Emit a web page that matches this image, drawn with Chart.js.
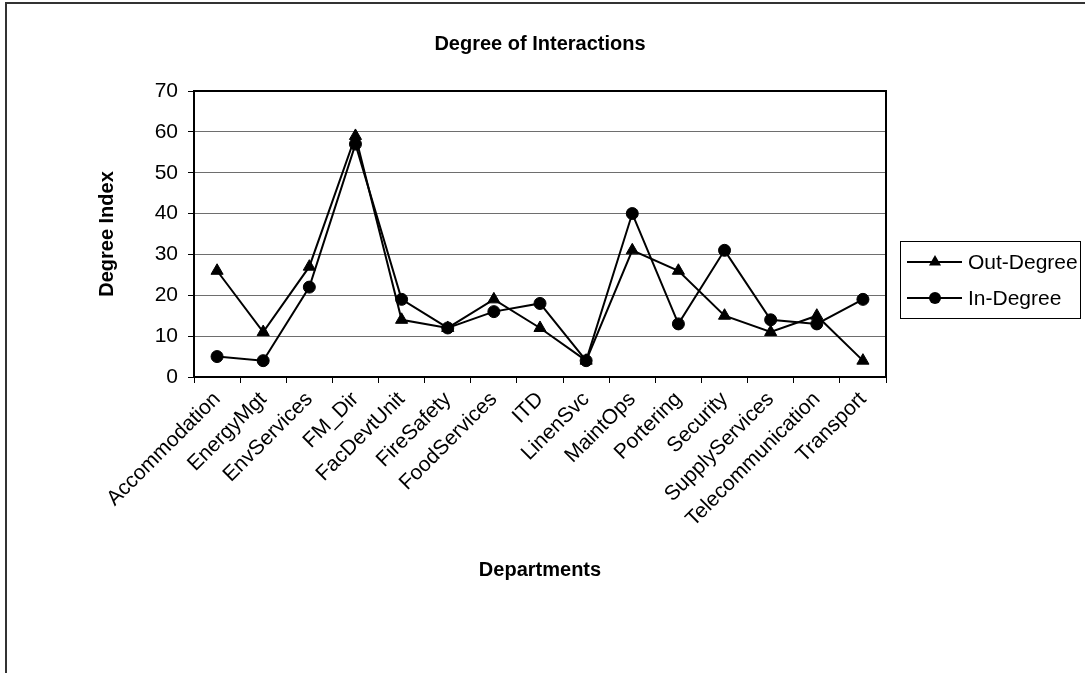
<!DOCTYPE html>
<html lang="en">
<head>
<meta charset="UTF-8">
<title>Degree of Interactions</title>
<script src="https://cdn.jsdelivr.net/npm/chart.js@4.4.0/dist/chart.umd.min.js"></script>
<style>
  html, body { margin:0; padding:0; background:#fff; }
  #wrap { width:1085px; height:673px; }
</style>
</head>
<body>
<div id="wrap"><canvas id="degreeChart" width="1085" height="673"></canvas></div>
<script>
const departments = ['Accommodation', 'EnergyMgt', 'EnvServices', 'FM_Dir', 'FacDevtUnit', 'FireSafety',
    'FoodServices', 'ITD', 'LinenSvc', 'MaintOps', 'Portering', 'Security', 'SupplyServices',
    'Telecommunication', 'Transport'];
const outDegree = [26, 11, 27, 59, 14, 12, 19, 12, 4, 31, 26, 15, 11, 15, 4];
const inDegree  = [5, 4, 22, 57, 19, 12, 16, 18, 4, 40, 13, 31, 14, 13, 19];
const yMin = 0, yMax = 70, yStep = 10;

const FONT = "'Liberation Sans', Arial, sans-serif";
Chart.defaults.font.family = FONT;
Chart.defaults.color = '#000';

// outer frame of the chart object
const frame = {
    id: 'frame',
    beforeDraw(chart) {
        const ctx = chart.ctx;
        ctx.save();
        ctx.fillStyle = '#fff';
        ctx.fillRect(0, 0, chart.width, chart.height);
        ctx.strokeStyle = '#333';
        ctx.lineWidth = 2;
        ctx.strokeRect(6, 3, chart.width + 20, chart.height + 20);
        ctx.restore();
    }
};

// black box round the plot area
const plotBorder = {
    id: 'plotBorder',
    beforeDatasetsDraw(chart) {
        const a = chart.chartArea;
        const ctx = chart.ctx;
        ctx.save();
        ctx.strokeStyle = '#000';
        ctx.lineWidth = 2;
        ctx.strokeRect(a.left, a.top, a.right - a.left, a.bottom - a.top);
        ctx.restore();
    }
};

function marker(ctx, style, x, y, r) {
    ctx.beginPath();
    if (style === 'triangle') {
        ctx.moveTo(x, y - r);
        ctx.lineTo(x + r * Math.sin(2 * Math.PI / 3), y + r * 0.5);
        ctx.lineTo(x - r * Math.sin(2 * Math.PI / 3), y + r * 0.5);
        ctx.closePath();
    } else {
        ctx.arc(x, y, r, 0, Math.PI * 2);
    }
    ctx.fill();
}

// legend box on the right
const boxLegend = {
    id: 'boxLegend',
    afterDraw(chart) {
        const ctx = chart.ctx;
        ctx.save();
        ctx.strokeStyle = '#000';
        ctx.lineWidth = 1;
        ctx.strokeRect(900.5, 241.5, 180, 77);
        ctx.font = '21px ' + FONT;
        ctx.textBaseline = 'middle';
        ctx.textAlign = 'left';
        chart.data.datasets.forEach(function(ds, i) {
            const y = 262 + i * 36;
            ctx.strokeStyle = '#000';
            ctx.lineWidth = 2;
            ctx.beginPath();
            ctx.moveTo(907, y);
            ctx.lineTo(962, y);
            ctx.stroke();
            ctx.fillStyle = '#000';
            marker(ctx, ds.pointStyle, 935, y, ds.pointRadius);
            ctx.fillText(ds.label, 968, y + 1);
        });
        ctx.restore();
    }
};

new Chart(document.getElementById('degreeChart'), {
    type: 'line',
    data: {
        labels: departments,
        datasets: [
            {
                label: 'Out-Degree',
                data: outDegree,
                borderColor: '#000',
                backgroundColor: '#000',
                borderWidth: 2,
                pointStyle: 'triangle',
                pointRadius: 7,
                pointBorderWidth: 1,
                tension: 0
            },
            {
                label: 'In-Degree',
                data: inDegree,
                borderColor: '#000',
                backgroundColor: '#000',
                borderWidth: 2,
                pointStyle: 'circle',
                pointRadius: 6,
                pointBorderWidth: 1,
                tension: 0
            }
        ]
    },
    options: {
        responsive: false,
        animation: false,
        layout: { padding: { left: 0, right: 199, top: 0, bottom: 0 } },
        plugins: {
            legend: { display: false },
            tooltip: { enabled: false },
            title: {
                display: true,
                text: 'Degree of Interactions',
                fullSize: false,
                color: '#000',
                font: { size: 20, weight: 'bold' },
                padding: { top: 32, bottom: 35 }
            }
        },
        scales: {
            x: {
                offset: true,
                grid: { offset: true, drawOnChartArea: false, tickLength: 6, tickColor: '#000' },
                border: { display: false },
                ticks: { autoSkip: false, minRotation: 45, maxRotation: 45, padding: 4, font: { size: 21 } },
                title: {
                    display: true, text: 'Departments',
                    font: { size: 20, weight: 'bold' },
                    padding: { top: 0, bottom: 91 }
                },
                afterFit(scale) { scale.height = 296; }
            },
            y: {
                min: yMin, max: yMax,
                grid: { color: '#6e6e6e', tickColor: '#000', tickLength: 6 },
                border: { display: false },
                ticks: { stepSize: yStep, padding: 10, font: { size: 21 } },
                title: {
                    display: true, text: 'Degree Index',
                    font: { size: 20, weight: 'bold' },
                    padding: { top: 95, bottom: 0 }
                },
                afterFit(scale) { scale.width = 194; }
            }
        }
    },
    plugins: [frame, plotBorder, boxLegend]
});
</script>
</body>
</html>
